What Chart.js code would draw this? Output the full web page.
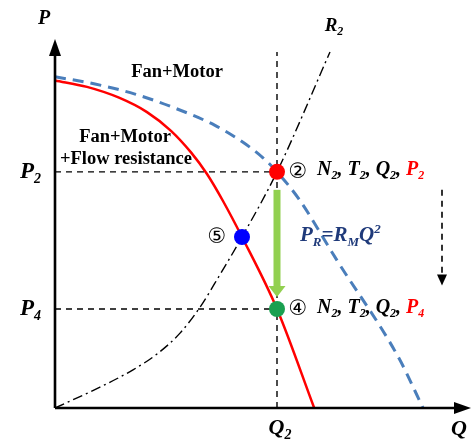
<!DOCTYPE html>
<html>
<head>
<meta charset="utf-8">
<script src="https://cdn.jsdelivr.net/npm/chart.js@4.4.1/dist/chart.umd.min.js"></script>
<style>
  html, body { margin: 0; padding: 0; background: #ffffff; }
  #wrap { width: 474px; height: 443px; position: relative; }
</style>
</head>
<body>
<div id="wrap"><canvas id="c" width="474" height="443"></canvas></div>
<script>
// ---- data (schematic units: Q on x, P on y) ----
const redQ  = [0, 0.8, 1.6, 2.3, 2.9, 3.4, 3.8, 4.2, 4.675, 5.55, 6.48];
const redP  = [9.1, 8.92, 8.62, 8.22, 7.7, 7.1, 6.5, 5.75, 4.75, 2.75, 0];
const blueQ = [0, 1, 2, 3, 4, 4.7, 5.2, 5.55, 6.1, 7.05, 8.6, 9.2];
const blueP = [9.2, 9.0, 8.72, 8.33, 7.85, 7.38, 6.95, 6.56, 5.8, 4.1, 1.38, 0];
const r2Q   = [0, 1.125, 1.95, 2.55, 3.125, 3.625, 4.1, 4.675, 5.55, 6.875];
const r2P   = [0, 0.58, 1.06, 1.5, 2.08, 2.8, 3.66, 4.75, 6.56, 9.89];
const stateNames = ['②', '④', '⑤'];
const stateQ = [5.55, 5.55, 4.675];
const stateP = [6.56, 2.75, 4.75];
const stateColors = ['#ff0000', '#1aa050', '#0000ff'];
const Q2 = 5.55, P2 = 6.56, P4 = 2.75;
const yTickLabels = [['P', '2', P2], ['P', '4', P4]];
const xTickLabels = [['Q', '2', Q2]];
const qTop = 9.89;            // top of the Q2 guide line
const greenArrow = [6.06, 3.08];   // P range of the green arrow
const dashArrowQ = 9.675, dashArrow = [6.06, 3.4];

const toXY = (xs, ys) => xs.map((x, i) => ({ x: x, y: ys[i] }));

const SERIF = '"Liberation Serif", "Times New Roman", serif';

function subText(ctx, parts, x, y, size, align) {
  const fN = 'italic bold ' + size + 'px ' + SERIF;
  const fS = 'italic bold ' + Math.round(size * 0.62) + 'px ' + SERIF;
  let total = 0;
  parts.forEach(p => { ctx.font = p.kind === 'n' ? fN : fS; total += ctx.measureText(p.t).width; });
  let cx = align === 'center' ? x - total / 2 : (align === 'right' ? x - total : x);
  ctx.textBaseline = 'middle';
  ctx.textAlign = 'left';
  parts.forEach(p => {
    ctx.fillStyle = p.c || '#000';
    ctx.font = p.kind === 'n' ? fN : fS;
    let dy = p.kind === 's' ? size * 0.32 : (p.kind === 'p' ? -size * 0.3 : 0);
    ctx.fillText(p.t, cx, y + dy);
    cx += ctx.measureText(p.t).width;
  });
  return cx;
}

const overlay = {
  id: 'overlay',
  afterDatasetsDraw(chart) {
    const ctx = chart.ctx;
    const xs = chart.scales.x, ys = chart.scales.y;
    const X = v => xs.getPixelForValue(v), Y = v => ys.getPixelForValue(v);
    const ox = X(0), oy = Y(0);
    ctx.save();
    // axes
    ctx.strokeStyle = '#000'; ctx.fillStyle = '#000'; ctx.lineWidth = 2.6;
    ctx.beginPath(); ctx.moveTo(ox, oy); ctx.lineTo(ox, 52); ctx.stroke();
    ctx.beginPath(); ctx.moveTo(ox, oy); ctx.lineTo(458, oy); ctx.stroke();
    ctx.beginPath(); ctx.moveTo(ox, 39); ctx.lineTo(ox - 6, 56); ctx.lineTo(ox + 6, 56); ctx.closePath(); ctx.fill();
    ctx.beginPath(); ctx.moveTo(471, oy); ctx.lineTo(454, oy - 6); ctx.lineTo(454, oy + 6); ctx.closePath(); ctx.fill();

    // green arrow
    const gx = X(Q2), gy0 = Y(greenArrow[0]), gy1 = Y(greenArrow[1]);
    ctx.fillStyle = '#92d050';
    ctx.fillRect(gx - 3.5, gy0, 7, (gy1 - gy0) - 10);
    ctx.beginPath(); ctx.moveTo(gx, gy1); ctx.lineTo(gx - 8.5, gy1 - 11); ctx.lineTo(gx + 8.5, gy1 - 11); ctx.closePath(); ctx.fill();

    // dashed arrow
    const dx = X(dashArrowQ), dy0 = Y(dashArrow[0]), dy1 = Y(dashArrow[1]);
    ctx.strokeStyle = '#000'; ctx.lineWidth = 1.6; ctx.setLineDash([6, 5]);
    ctx.beginPath(); ctx.moveTo(dx, dy0); ctx.lineTo(dx, dy1 - 10); ctx.stroke();
    ctx.setLineDash([]);
    ctx.fillStyle = '#000';
    ctx.beginPath(); ctx.moveTo(dx, dy1); ctx.lineTo(dx - 5, dy1 - 11); ctx.lineTo(dx + 5, dy1 - 11); ctx.closePath(); ctx.fill();

    // state points drawn on top
    stateQ.forEach((q, i) => {
      ctx.fillStyle = stateColors[i];
      ctx.beginPath(); ctx.arc(X(q), Y(stateP[i]), 8, 0, Math.PI * 2); ctx.fill();
    });

    // axis names
    subText(ctx, [{ t: 'P', kind: 'n' }], ox - 11, 19, 20, 'center');
    subText(ctx, [{ t: 'Q', kind: 'n' }], 459, 429, 22, 'center');
    yTickLabels.forEach(l => {
      subText(ctx, [{ t: l[0], kind: 'n' }, { t: l[1], kind: 's' }], ox - 14, Y(l[2]), 23, 'right');
    });
    xTickLabels.forEach(l => {
      subText(ctx, [{ t: l[0], kind: 'n' }, { t: l[1], kind: 's' }], X(l[2]) + 3, 428, 22, 'center');
    });
    subText(ctx, [{ t: 'R', kind: 'n' }, { t: '2', kind: 's' }], 334, 26, 19, 'center');

    // curve labels
    ctx.fillStyle = '#000';
    ctx.font = 'bold 18.5px ' + SERIF;
    ctx.textAlign = 'center'; ctx.textBaseline = 'middle';
    ctx.fillText('Fan+Motor', 177, 72);
    ctx.fillText('Fan+Motor', 125, 137);
    ctx.fillText('+Flow resistance', 126, 159);

    // state labels
    ctx.font = '21px "DejaVu Sans", sans-serif';
    ctx.textAlign = 'center'; ctx.textBaseline = 'middle';
    ctx.fillStyle = '#000';
    ctx.fillText(stateNames[0], 298, Y(stateP[0]) + 1);
    ctx.fillText(stateNames[1], 298, Y(stateP[1]) + 1);
    ctx.fillText(stateNames[2], 217, Y(stateP[2]) + 1);
    const red = '#ff0000';
    subText(ctx, [
      { t: 'N', kind: 'n' }, { t: '2', kind: 's' }, { t: ', ', kind: 'n' },
      { t: 'T', kind: 'n' }, { t: '2', kind: 's' }, { t: ', ', kind: 'n' },
      { t: 'Q', kind: 'n' }, { t: '2', kind: 's' }, { t: ', ', kind: 'n' },
      { t: 'P', kind: 'n', c: red }, { t: '2', kind: 's', c: red }
    ], 317, Y(P2) - 2, 20, 'left');
    subText(ctx, [
      { t: 'N', kind: 'n' }, { t: '2', kind: 's' }, { t: ', ', kind: 'n' },
      { t: 'T', kind: 'n' }, { t: '2', kind: 's' }, { t: ', ', kind: 'n' },
      { t: 'Q', kind: 'n' }, { t: '2', kind: 's' }, { t: ', ', kind: 'n' },
      { t: 'P', kind: 'n', c: red }, { t: '4', kind: 's', c: red }
    ], 317, Y(P4) - 1, 20, 'left');
    const navy = '#1f3a7a';
    subText(ctx, [
      { t: 'P', kind: 'n', c: navy }, { t: 'R', kind: 's', c: navy }, { t: '=', kind: 'n', c: navy },
      { t: 'R', kind: 'n', c: navy }, { t: 'M', kind: 's', c: navy }, { t: 'Q', kind: 'n', c: navy },
      { t: '2', kind: 'p', c: navy }
    ], 300, 236, 21, 'left');
    ctx.restore();
  }
};

new Chart(document.getElementById('c'), {
  type: 'scatter',
  data: {
    datasets: [
      { label: 'Fan+Motor+Flow resistance', data: toXY(redQ, redP), showLine: true,
        borderColor: '#ff0000', borderWidth: 2.5, pointRadius: 0, cubicInterpolationMode: 'monotone', clip: false },
      { label: 'Fan+Motor', data: toXY(blueQ, blueP), showLine: true,
        borderColor: '#4a7ebb', borderWidth: 3, borderDash: [11, 7], pointRadius: 0, cubicInterpolationMode: 'monotone', clip: false },
      { label: 'R2', data: toXY(r2Q, r2P), showLine: true,
        borderColor: '#000', borderWidth: 1.4, borderDash: [10, 4, 2, 4], pointRadius: 0, cubicInterpolationMode: 'monotone', clip: false },
      { label: 'P2 guide', data: [{ x: 0, y: P2 }, { x: Q2, y: P2 }], showLine: true,
        borderColor: '#000', borderWidth: 1.4, borderDash: [6, 5], pointRadius: 0, clip: false },
      { label: 'P4 guide', data: [{ x: 0, y: P4 }, { x: Q2, y: P4 }], showLine: true,
        borderColor: '#000', borderWidth: 1.4, borderDash: [6, 5], pointRadius: 0, clip: false },
      { label: 'Q2 guide', data: [{ x: Q2, y: 0 }, { x: Q2, y: qTop }], showLine: true,
        borderColor: '#000', borderWidth: 1.4, borderDash: [6, 5], pointRadius: 0, clip: false }
    ]
  },
  options: {
    responsive: false,
    animation: false,
    layout: { padding: { left: 55, right: 19, top: 48, bottom: 35 } },
    scales: {
      x: { type: 'linear', min: 0, max: 10, display: false },
      y: { type: 'linear', min: 0, max: 10, display: false }
    },
    plugins: { legend: { display: false }, tooltip: { enabled: false } }
  },
  plugins: [overlay]
});
</script>
</body>
</html>
